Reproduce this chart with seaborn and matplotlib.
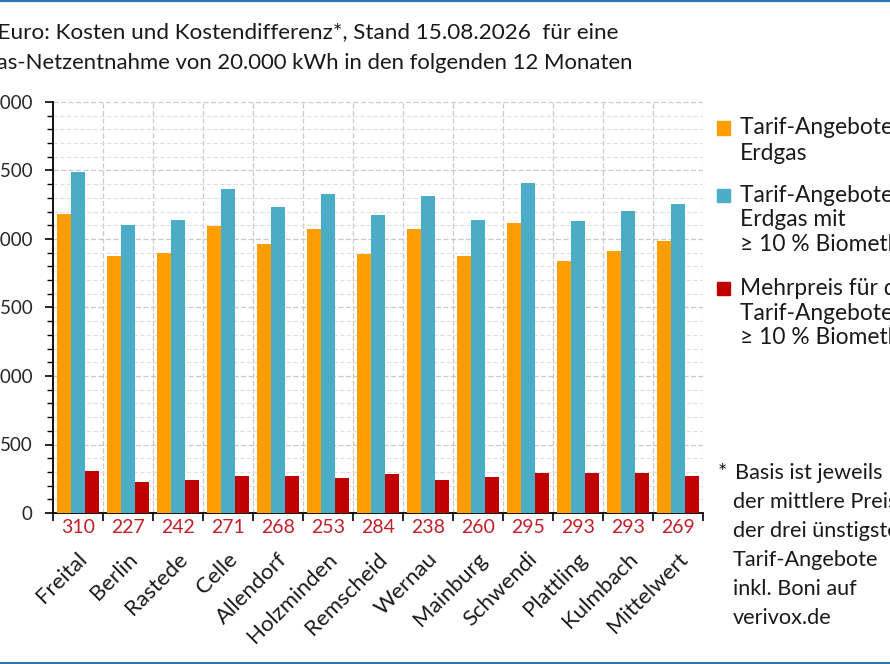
import matplotlib
matplotlib.use("Agg")
import matplotlib.pyplot as plt
import numpy as np
import pandas as pd
import seaborn as sns
from matplotlib.lines import Line2D
from matplotlib.patches import Rectangle
from matplotlib.ticker import MultipleLocator, FixedLocator

# Werte in Euro
orte = ["Freital", "Berlin", "Rastede", "Celle", "Allendorf", "Holzminden",
        "Remscheid", "Wernau", "Mainburg", "Schwendi", "Plattling",
        "Kulmbach", "Mittelwert"]
erdgas = [2180, 1876, 1895, 2093, 1966, 2074, 1890, 2076, 1876, 2114, 1842, 1910, 1988]
biomethan = [2490, 2103, 2137, 2364, 2234, 2327, 2174, 2314, 2136, 2409, 2135, 2203, 2257]
mehrpreis = [310, 227, 242, 271, 268, 253, 284, 238, 260, 295, 293, 293, 269]

serien = ["Erdgas", "Biomethan", "Mehrpreis"]
farben = {"Erdgas": "#FF9E00", "Biomethan": "#4BACC6", "Mehrpreis": "#C00000"}
legend_zeilen = [
    ["Tarif-Angebote für", "Erdgas"],
    ["Tarif-Angebote für", "Erdgas mit", "≥ 10 % Biomethan"],
    ["Mehrpreis für die", "Tarif-Angebote mit", "≥ 10 % Biomethan"],
]
titel_1 = "In Euro: Kosten und Kostendifferenz*, Stand 15.08.2026  für eine"
titel_2 = "Erdgas-Netzentnahme von 20.000 kWh in den folgenden 12 Monaten"
fussnote = ["Basis ist jeweils", "der mittlere Preis", "der drei ünstigsten",
            "Tarif-Angebote", "inkl. Boni auf", "verivox.de"]

df = pd.DataFrame({
    "Ort": orte * 3,
    "Serie": [s for s in serien for _ in orte],
    "Euro": erdgas + biomethan + mehrpreis,
})

sns.set_theme(style="white")
plt.rcParams["font.family"] = ["Lato", "DejaVu Sans"]

W, H = 890, 664
fig = plt.figure(figsize=(W / 100, H / 100), dpi=100)
ax = fig.add_axes([53 / W, 1 - 513 / H, 650 / W, 411 / H])


def fy(px):
    return 1 - px / H


sns.barplot(data=df, x="Ort", y="Euro", hue="Serie", hue_order=serien,
            palette=farben, width=0.84, saturation=1, linewidth=0,
            errorbar=None, legend=False, ax=ax, zorder=3)

n = len(orte)
ax.set_xlim(-0.5, n - 0.5)
ax.set_ylim(0, 3000)
ax.set_xlabel("")
ax.set_ylabel("")

# Gitter
grau = "#c9c9c9"
ax.yaxis.set_major_locator(MultipleLocator(500))
ax.yaxis.set_minor_locator(MultipleLocator(100))
ax.xaxis.set_minor_locator(FixedLocator(np.arange(-0.5, n, 1.0)))
ax.grid(which="major", axis="y", linestyle=(0, (4, 2)), color=grau, lw=0.9, zorder=0)
ax.grid(which="minor", axis="y", linestyle=(0, (4, 2)), color="#e0e0e0", lw=0.8, zorder=0)
ax.grid(which="minor", axis="x", linestyle=(0, (4, 2)), color=grau, lw=0.9, zorder=0)
ax.set_axisbelow(True)

for s in ["top", "right"]:
    ax.spines[s].set_visible(False)
for s in ["left", "bottom"]:
    ax.spines[s].set_color("black")
    ax.spines[s].set_linewidth(1.3)

ax.tick_params(axis="y", which="major", direction="out", length=5.5, width=1.2,
               color="black", labelsize=13.5, pad=9, left=True)
ax.tick_params(axis="y", which="minor", direction="out", length=4.5, width=1.0,
               color="black", left=True)
ax.tick_params(axis="x", which="major", length=0)
ax.tick_params(axis="x", which="minor", direction="out", length=6, width=1.2,
               color="black", bottom=True)
ax.set_yticks(np.arange(0, 3001, 500))
ax.set_yticklabels([f"{v}" for v in range(0, 3001, 500)])
ax.set_xticks(range(n))
ax.set_xticklabels([])

# Ortsnamen schräg und Mehrpreis-Werte unter der Achse
for i, (ort, v) in enumerate(zip(orte, mehrpreis)):
    ax.annotate(f"{v}", xy=(i, 0), xycoords=("data", "axes fraction"),
                xytext=(0, -10.5), textcoords="offset points",
                ha="center", va="center", color="#C0202A", fontsize=14)
    ax.annotate(ort, xy=(i, 0), xycoords=("data", "axes fraction"),
                xytext=(4.5, -31), textcoords="offset points",
                rotation=45, rotation_mode="anchor", ha="right", va="center",
                fontsize=16, color="#1a1a1a")

# Titel (links abgeschnitten wie in der Vorlage)
fig.text(618 / W, fy(32), titel_1, ha="right", va="center", fontsize=16.2,
         color="#1a1a1a")
fig.text(633 / W, fy(63), titel_2, ha="right", va="center", fontsize=15.9,
         color="#1a1a1a")

# Legende rechts
legend_y = [128, 195, 288]
for serie, zeilen, y in zip(serien, legend_zeilen, legend_y):
    fig.patches.append(Rectangle((717 / W, fy(y + 6.5)), 13 / W, 13 / H,
                                 transform=fig.transFigure, color=farben[serie]))
    for k, zeile in enumerate(zeilen):
        fig.text(740 / W, fy(y + 25 * k), zeile, ha="left", va="center",
                 fontsize=16.4, color="#1a1a1a")

# Fußnote
fig.text(718 / W, fy(473), "*", ha="left", va="center", fontsize=15.6,
         color="#1a1a1a")
for k, zeile in enumerate(fussnote):
    x0 = 735 if k == 0 else 733
    fig.text(x0 / W, fy(473 + 29 * k), zeile, ha="left", va="center",
             fontsize=15.6, color="#1a1a1a")

# blaue Rahmenlinien oben und unten
blau = "#2E75B6"
fig.add_artist(Line2D([0, 1], [fy(0.8), fy(0.8)], color=blau, lw=1.6,
                      transform=fig.transFigure))
fig.add_artist(Line2D([0, 1], [fy(662.5), fy(662.5)], color=blau, lw=2.2,
                      transform=fig.transFigure))

fig.savefig("out.png", dpi=100)
